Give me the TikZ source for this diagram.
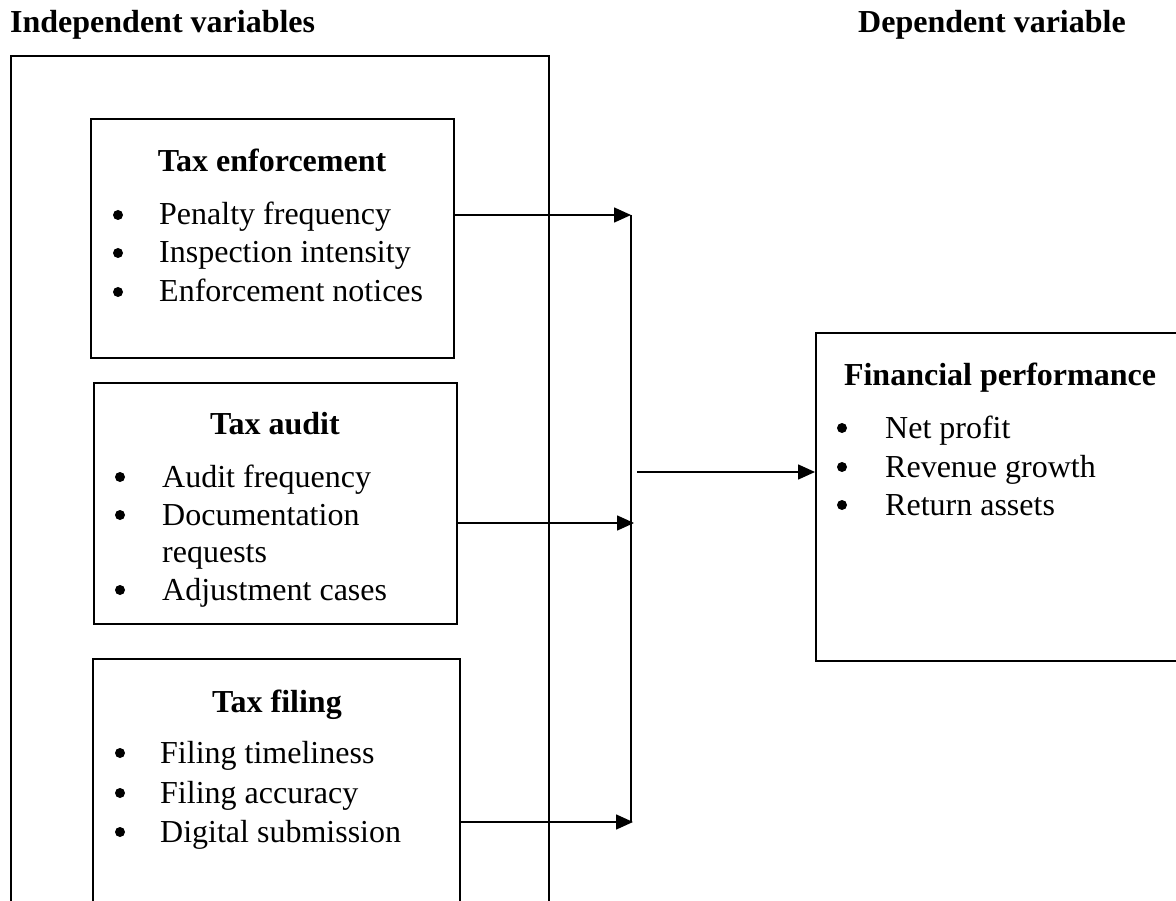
\documentclass[tikz,border=0pt]{standalone}
\usepackage{fontspec}
\setmainfont{Liberation Serif}
\usetikzlibrary{arrows.meta}
\tikzset{
  box/.style={draw, line width=1.6pt, rectangle, inner sep=0pt, anchor=north west},
  txt/.style={inner sep=0pt, anchor=base west, font=\fontsize{32}{38}\selectfont},
  ttl/.style={inner sep=0pt, anchor=base, font=\fontsize{32}{38}\selectfont\bfseries},
  hdr/.style={inner sep=0pt, anchor=base west, font=\fontsize{32}{38}\selectfont\bfseries},
  bul/.style={circle, fill, inner sep=0pt, minimum size=10pt, yshift=10pt},
  conn/.style={line width=1.6pt},
  arr/.style={line width=1.6pt, -{Triangle[length=17pt,width=15pt]}}
}
\begin{document}
\begin{tikzpicture}[x=1pt,y=-1pt]
\useasboundingbox (0,0) rectangle (1176,901);
% headers
\node[hdr] (hi) at (10,33) {Independent variables};
\node[hdr] (hd) at (858,33) {Dependent variable};
% outer box
\node[box, minimum width=538pt, minimum height=880pt] (outer) at (10,55) {};
% box 1
\node[box, minimum width=363pt, minimum height=239pt] (enf) at (90,118) {};
\node[ttl] (t1) at (272,172) {Tax enforcement};
\node[bul] (b11) at (118,225) {};
\node[txt] (i11) at (159,225) {Penalty frequency};
\node[bul] (b12) at (118,263) {};
\node[txt] (i12) at (159,263) {Inspection intensity};
\node[bul] (b13) at (118,302) {};
\node[txt] (i13) at (159,302) {Enforcement notices};
% box 2
\node[box, minimum width=363pt, minimum height=241pt] (aud) at (93,382) {};
\node[ttl] (t2) at (275,435) {Tax audit};
\node[bul] (b21) at (120,487) {};
\node[txt] (i21) at (162,487) {Audit frequency};
\node[bul] (b22) at (120,525) {};
\node[txt] (i22) at (162,525) {Documentation};
\node[txt] (i22b) at (162,562) {requests};
\node[bul] (b23) at (120,600) {};
\node[txt] (i23) at (162,600) {Adjustment cases};
% box 3
\node[box, minimum width=367pt, minimum height=280pt] (fil) at (92,658) {};
\node[ttl] (t3) at (277,712) {Tax filing};
\node[bul] (b31) at (120,763) {};
\node[txt] (i31) at (160,763) {Filing timeliness};
\node[bul] (b32) at (120,803) {};
\node[txt] (i32) at (160,803) {Filing accuracy};
\node[bul] (b33) at (120,842) {};
\node[txt] (i33) at (160,842) {Digital submission};
% right box
\node[box, minimum width=370pt, minimum height=328pt] (perf) at (815,332) {};
\node[ttl] (t4) at (1000,385) {Financial performance};
\node[bul] (b41) at (842,438) {};
\node[txt] (i41) at (885,438) {Net profit};
\node[bul] (b42) at (842,477) {};
\node[txt] (i42) at (885,477) {Revenue growth};
\node[bul] (b43) at (842,515) {};
\node[txt] (i43) at (885,515) {Return assets};
% connectors
\coordinate (vt) at (631,215);
\coordinate (vm) at (634,523);
\coordinate (vb) at (633,822);
\coordinate (vo) at (637,472);
\draw[conn] (vt) -- (631,822);
\draw[arr] (enf.east |- vt) -- (vt);
\draw[arr] (aud.east |- vm) -- (vm);
\draw[arr] (fil.east |- vb) -- (vb);
\draw[arr] (vo) -- (perf.west |- vo);
\end{tikzpicture}
\end{document}
